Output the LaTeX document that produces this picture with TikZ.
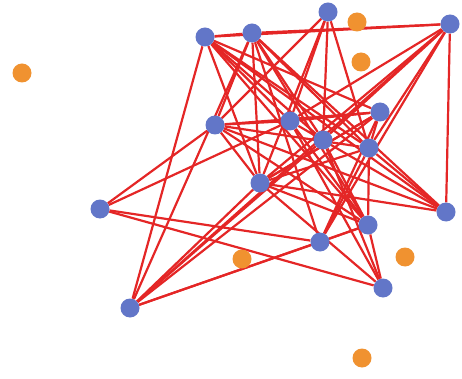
\documentclass[tikz,border=0pt]{standalone}
\usetikzlibrary{backgrounds}
\definecolor{graphBlue}{RGB}{98,118,200}
\definecolor{graphRed}{RGB}{228,38,38}
\definecolor{graphOrange}{RGB}{240,146,48}

\begin{document}
\begin{tikzpicture}[x=1pt,y=-1pt,
    vert/.style={circle,fill=graphBlue,minimum size=19pt,inner sep=0pt},
    extra/.style={circle,fill=graphOrange,minimum size=19pt,inner sep=0pt},
    link/.style={graphRed,line width=2.2pt}]
  \useasboundingbox (0,0) rectangle (462,379);
  % blue vertices
  \node[vert] (A) at (205,37) {};
  \node[vert] (B) at (252,33) {};
  \node[vert] (C) at (328,12) {};
  \node[vert] (D) at (450,24) {};
  \node[vert] (E) at (215,125) {};
  \node[vert] (F) at (290,121) {};
  \node[vert] (G) at (380,112) {};
  \node[vert] (H) at (323,140) {};
  \node[vert] (I) at (369,148) {};
  \node[vert] (J) at (260,183) {};
  \node[vert] (K) at (100,209) {};
  \node[vert] (L) at (446,212) {};
  \node[vert] (M) at (368,225) {};
  \node[vert] (N) at (320,242) {};
  \node[vert] (O) at (383,288) {};
  \node[vert] (P) at (130,308) {};
  % isolated orange points
  \node[extra] (o1) at (22,73) {};
  \node[extra] (o2) at (357,22) {};
  \node[extra] (o3) at (361,62) {};
  \node[extra] (o4) at (242,259) {};
  \node[extra] (o5) at (405,257) {};
  \node[extra] (o6) at (362,358) {};
  % edges
  \begin{scope}[on background layer]
    \foreach \u/\v in {A/B,A/D,A/P,A/F,A/H,A/I,A/G,A/J,A/M,A/L,
                       B/D,B/E,B/J,B/H,B/I,B/L,B/M,B/N,
                       C/E,C/J,C/F,C/H,C/I,
                       D/J,D/H,D/F,D/L,D/N,D/I,
                       E/F,E/K,E/L,E/M,E/J,E/I,
                       F/M,F/O,F/G,F/L,F/K,
                       G/I,G/J,G/N,G/E,
                       H/O,H/M,H/P,
                       I/M,I/N,I/L,
                       J/L,J/O,J/I,J/G,J/M,
                       K/N,K/O,
                       N/M,N/P,M/O,
                       P/J,P/G,P/D,P/M,P/B}
      \draw[link] (\u) -- (\v);
  \end{scope}
\end{tikzpicture}
\end{document}
